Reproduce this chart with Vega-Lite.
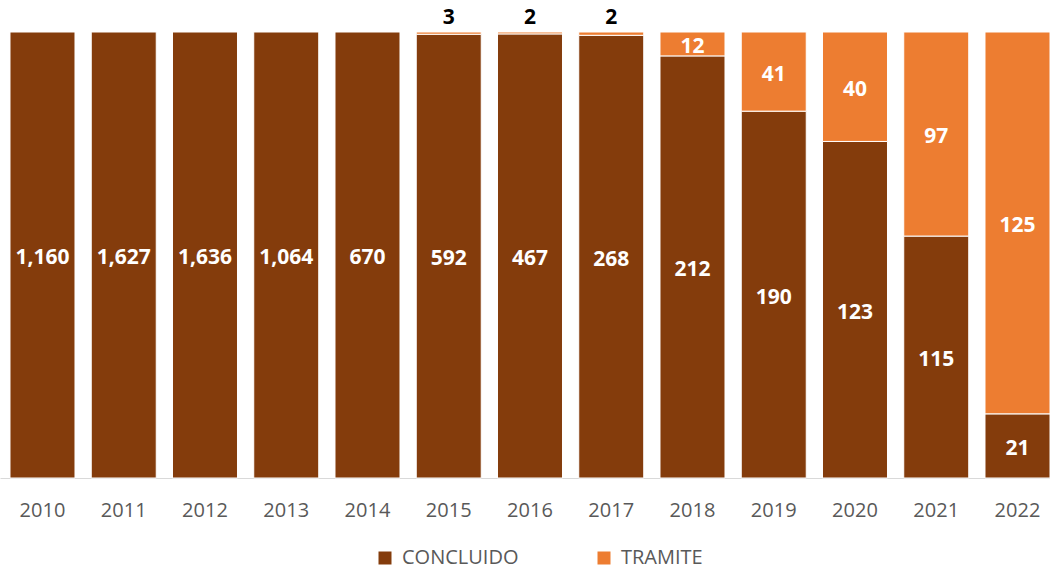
{
  "$schema": "https://vega.github.io/schema/vega-lite/v6.json",
  "autosize": "none",
  "width": 1050,
  "height": 446,
  "padding": {"left": 0, "top": 32, "right": 0, "bottom": 93},
  "background": "white",
  "config": {"view": {"stroke": null}, "font": "Open Sans"},
  "data": {
    "values": [
      {"year": "2010", "estado": "CONCLUIDO", "n": 1160},
      {"year": "2011", "estado": "CONCLUIDO", "n": 1627},
      {"year": "2012", "estado": "CONCLUIDO", "n": 1636},
      {"year": "2013", "estado": "CONCLUIDO", "n": 1064},
      {"year": "2014", "estado": "CONCLUIDO", "n": 670},
      {"year": "2015", "estado": "CONCLUIDO", "n": 592},
      {"year": "2015", "estado": "TRAMITE", "n": 3},
      {"year": "2016", "estado": "CONCLUIDO", "n": 467},
      {"year": "2016", "estado": "TRAMITE", "n": 2},
      {"year": "2017", "estado": "CONCLUIDO", "n": 268},
      {"year": "2017", "estado": "TRAMITE", "n": 2},
      {"year": "2018", "estado": "CONCLUIDO", "n": 212},
      {"year": "2018", "estado": "TRAMITE", "n": 12},
      {"year": "2019", "estado": "CONCLUIDO", "n": 190},
      {"year": "2019", "estado": "TRAMITE", "n": 41},
      {"year": "2020", "estado": "CONCLUIDO", "n": 123},
      {"year": "2020", "estado": "TRAMITE", "n": 40},
      {"year": "2021", "estado": "CONCLUIDO", "n": 115},
      {"year": "2021", "estado": "TRAMITE", "n": 97},
      {"year": "2022", "estado": "CONCLUIDO", "n": 21},
      {"year": "2022", "estado": "TRAMITE", "n": 125}
    ]
  },
  "encoding": {
    "x": {
      "field": "year",
      "type": "ordinal",
      "scale": {"paddingInner": 0.2, "paddingOuter": 0.0615, "align": 1},
      "axis": {
        "title": null,
        "labelAngle": 0,
        "labelFontSize": 20,
        "labelColor": "#595959",
        "labelFont": "Open Sans",
        "ticks": false,
        "domainColor": "#d9d9d9",
        "labelPadding": 22
      }
    }
  },
  "layer": [
    {
      "mark": {"type": "bar", "stroke": "white", "strokeWidth": 1},
      "encoding": {
        "y": {"field": "n", "type": "quantitative", "stack": "normalize", "axis": null},
        "color": {
          "field": "estado",
          "type": "nominal",
          "scale": {"domain": ["CONCLUIDO", "TRAMITE"], "range": ["#843C0C", "#ED7D31"]},
          "legend": {
            "title": null,
            "orient": "none",
            "legendX": 375,
            "legendY": 516,
            "direction": "horizontal",
            "symbolType": "square",
            "symbolSize": 169,
            "symbolStrokeWidth": 0,
            "labelFontSize": 20,
            "labelColor": "#595959",
            "labelFont": "Open Sans",
            "labelOffset": 7,
            "columnPadding": 75,
            "padding": 0
          }
        },
        "order": {"field": "estado", "sort": "ascending"}
      }
    },
    {
      "mark": {"type": "text", "color": "white", "fontWeight": "bold", "fontSize": 21, "baseline": "middle", "dy": 3},
      "encoding": {
        "y": {"field": "n", "type": "quantitative", "stack": "normalize", "bandPosition": 0.5},
        "detail": {"field": "estado"},
        "order": {"field": "estado", "sort": "ascending"},
        "text": {"field": "n", "type": "quantitative", "format": ","},
        "opacity": {"condition": {"test": "datum.n < 10", "value": 0}, "value": 1}
      }
    },
    {
      "transform": [{"filter": "datum.estado === 'TRAMITE' && datum.n < 10"}],
      "mark": {"type": "text", "color": "black", "fontWeight": "bold", "fontSize": 21, "baseline": "middle", "dy": -14},
      "encoding": {
        "y": {"datum": 1, "type": "quantitative"},
        "text": {"field": "n", "type": "quantitative"}
      }
    }
  ]
}
